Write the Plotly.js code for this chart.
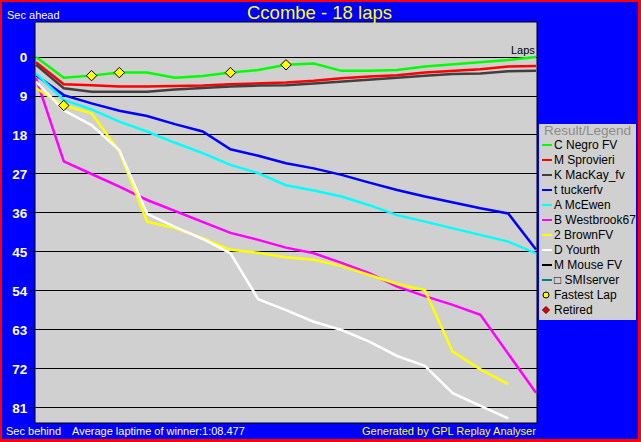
<!DOCTYPE html>
<html>
<head>
<meta charset="utf-8">
<script src="https://cdn.plot.ly/plotly-3.0.1.min.js"></script>
<style>
html,body{margin:0;padding:0;background:#ff0000;width:641px;height:442px;overflow:hidden;}
#g{position:absolute;left:2px;top:2px;width:636px;height:437px;}
</style>
</head>
<body>
<div id="g"></div>
<script>
// ---- data ----
const laps = [0,1,2,3,4,5,6,7,8,9,10,11,12,13,14,15,16,17,18];
const drivers = ['C Negro FV','M Sprovieri','K MacKay_fv','t tuckerfv','A McEwen','B Westbrook67','2 BrownFV','D Yourth','M Mouse FV','\u25A1 SMIserver'];
const driverColors = ['#00ff00','#ff0000','#404040','#0000ff','#00ffff','#ff00ff','#ffff00','#ffffff','#000000','#008080'];
const negro     = [0, 4.8, 4.3, 3.6, 3.6, 4.8, 4.4, 3.6, 3.0, 1.8, 1.5, 3.2, 3.2, 3.0, 2.2, 1.7, 1.2, 0.7, 0];
const sprovieri = [1.2, 6.3, 6.5, 6.8, 6.8, 6.7, 6.6, 6.3, 6.1, 5.9, 5.5, 4.9, 4.5, 4.2, 3.6, 3.2, 2.8, 2.2, 2.1];
const mackay    = [1.8, 7.2, 8.0, 8.0, 8.0, 7.5, 7.1, 6.8, 6.6, 6.5, 6.1, 5.7, 5.3, 4.8, 4.3, 3.9, 3.8, 3.3, 3.2];
const tucker    = [4.2, 8.8, 10.7, 12.4, 13.6, 15.5, 17.2, 21.3, 22.8, 24.5, 25.7, 27.2, 29.0, 30.7, 32.2, 33.6, 34.9, 36.1, 44.4];
const mcewen    = [3.8, 9.9, 12.1, 14.9, 17.2, 19.8, 22.2, 24.9, 26.8, 29.6, 30.8, 32.2, 34.2, 36.5, 38.0, 39.5, 41.1, 42.6, 45.3];
const westbrook = [4.9, 24.1, 27.0, 29.9, 33.0, 35.5, 38.0, 40.6, 42.2, 44.0, 45.3, 47.5, 49.9, 53.0, 55.2, 57.2, 59.5, 68.4, 77.5];
const brown     = [7.2, 11.2, 13.0, 21.8, 38.0, 39.5, 41.8, 44.5, 45.2, 46.2, 46.8, 48.2, 50.3, 52.4, 53.8, 68.0, 72.1, 75.5];
const yourth    = [5.7, 12.3, 15.7, 21.5, 36.2, 39.2, 42.0, 45.3, 55.9, 58.4, 61.1, 63.0, 65.7, 69.0, 71.3, 77.6, 80.5, 83.4];
const mouse     = [];
const smiserver = [];
const series = [negro, sprovieri, mackay, tucker, mcewen, westbrook, brown, yourth, mouse, smiserver];
const fastDriverIdx = [0, 0, 0, 0, 6];
const fastLaps      = [2, 3, 7, 9, 1];
const yTicks = [0, 9, 18, 27, 36, 45, 54, 63, 72, 81];
const legendExtra = ['Fastest Lap', 'Retired'];
const titleText = 'Ccombe - 18 laps';
const footLeft = 'Sec behind';
const footMid = 'Average laptime of winner:1:08.477';
const footRight = 'Generated by GPL Replay Analyser';

// ---- helpers: absolute pixel -> paper ----
const PL = 35, PR = 537, PT = 22, PB = 423;
const px = X => (X - PL) / (PR - PL);
const py = Y => (PB - Y) / (PB - PT);

const traces = [];
series.forEach((s, i) => {
  traces.push({
    x: laps.slice(0, s.length), y: s, type: 'scatter', mode: 'lines',
    line: {color: driverColors[i], width: 2.5}, name: drivers[i],
    hoverinfo: 'skip', showlegend: false
  });
});
traces.push({
  x: fastLaps, y: fastLaps.map((l, k) => series[fastDriverIdx[k]][l]),
  type: 'scatter', mode: 'markers',
  marker: {symbol: 'diamond', size: 8, color: '#ffff00', line: {color: '#000000', width: 1}},
  hoverinfo: 'skip', showlegend: false
});

const font = 'Liberation Sans, Arial, sans-serif';
const annotations = [
  {text: titleText, xref: 'paper', yref: 'paper', x: px(319), y: py(13), xanchor: 'center', yanchor: 'middle', showarrow: false, font: {family: font, size: 18.5, color: '#ffff00'}},
  {text: 'Sec ahead', xref: 'paper', yref: 'paper', x: px(5), y: py(15), xanchor: 'left', yanchor: 'middle', showarrow: false, font: {family: font, size: 11, color: '#ffffff'}},
  {text: footLeft, xref: 'paper', yref: 'paper', x: px(4), y: py(431), xanchor: 'left', yanchor: 'middle', showarrow: false, font: {family: font, size: 11, color: '#ffffff'}},
  {text: footMid, xref: 'paper', yref: 'paper', x: px(70), y: py(431), xanchor: 'left', yanchor: 'middle', showarrow: false, font: {family: font, size: 11, color: '#ffffff'}},
  {text: footRight, xref: 'paper', yref: 'paper', x: px(538), y: py(431), xanchor: 'right', yanchor: 'middle', showarrow: false, font: {family: font, size: 11, color: '#ffff00'}},
  {text: 'Laps', xref: 'paper', yref: 'paper', x: px(537), y: py(50), xanchor: 'right', yanchor: 'middle', showarrow: false, font: {family: font, size: 11, color: '#000000'}},
  {text: 'Result/Legend', xref: 'paper', yref: 'paper', x: px(542), y: py(130), xanchor: 'left', yanchor: 'middle', showarrow: false, font: {family: font, size: 13.5, color: '#8c8c8c'}}
];
const shapes = [
  {type: 'rect', xref: 'paper', yref: 'paper', x0: px(539), x1: px(636), y0: py(124), y1: py(320), fillcolor: '#d0d0d0', line: {width: 0}, layer: 'below'}
];
const legendNames = drivers.concat(legendExtra);
legendNames.forEach((n, i) => {
  const Y = 145 + 15 * i;
  annotations.push({text: n, xref: 'paper', yref: 'paper', x: px(552), y: py(Y), xanchor: 'left', yanchor: 'middle', showarrow: false, font: {family: font, size: 12, color: '#000000'}});
  if (i < drivers.length) {
    shapes.push({type: 'line', xref: 'paper', yref: 'paper', x0: px(542), x1: px(552), y0: py(Y), y1: py(Y), line: {color: driverColors[i], width: 2}});
  } else if (i === drivers.length) {
    shapes.push({type: 'circle', xref: 'paper', yref: 'paper', xsizemode: 'pixel', ysizemode: 'pixel', xanchor: px(546), yanchor: py(Y), x0: -3, x1: 3, y0: -3, y1: 3, fillcolor: '#ffff00', line: {color: '#000000', width: 1}});
  } else {
    shapes.push({type: 'path', xref: 'paper', yref: 'paper', xsizemode: 'pixel', ysizemode: 'pixel', xanchor: px(546), yanchor: py(Y), path: 'M -3.5 0 L 0 -3.5 L 3.5 0 L 0 3.5 Z', fillcolor: '#dd0000', line: {color: '#600000', width: 1}});
  }
});
// plot frame
shapes.push({type: 'rect', xref: 'paper', yref: 'paper', x0: 0, x1: 1, y0: 0, y1: 1, line: {color: '#000000', width: 1}, layer: 'above'});

const xr = [-1/27.78, 18 + 1/27.78];
const yr = [ (PB - 57) / 4.333, (PT - 57) / 4.333 ];
const zeroPos = py(57);

const layout = {
  width: 636, height: 437,
  margin: {l: 33, r: 101, t: 20, b: 16, pad: 0},
  paper_bgcolor: '#0000ff', plot_bgcolor: '#d0d0d0',
  showlegend: false,
  xaxis: {range: xr, showgrid: false, zeroline: false, showline: false, showticklabels: false, ticks: '', fixedrange: true},
  xaxis2: {range: xr, overlaying: 'x', anchor: 'free', position: zeroPos, side: 'bottom', tickmode: 'array', tickvals: laps, ticks: 'outside', ticklen: 3, tickcolor: '#000', tickwidth: 1, showticklabels: false, showgrid: false, zeroline: false, showline: false},
  xaxis3: {range: xr, overlaying: 'x', anchor: 'free', position: zeroPos, side: 'bottom', tickmode: 'array', tickvals: laps, ticks: 'inside', ticklen: 3, tickcolor: '#000', tickwidth: 1, showticklabels: false, showgrid: false, zeroline: false, showline: false},
  yaxis: {range: yr, tickmode: 'array', tickvals: yTicks, ticktext: yTicks.map(String), ticks: 'outside', ticklen: 4, tickcolor: '#000', showgrid: true, gridcolor: '#000000', gridwidth: 1, zeroline: false, showline: false,
          tickfont: {family: font, size: 13.5, color: '#ffffff', weight: 'bold'}, fixedrange: true},
  annotations: annotations,
  shapes: shapes
};
Plotly.newPlot('g', traces, layout, {staticPlot: true, displayModeBar: false});
</script>
</body>
</html>
